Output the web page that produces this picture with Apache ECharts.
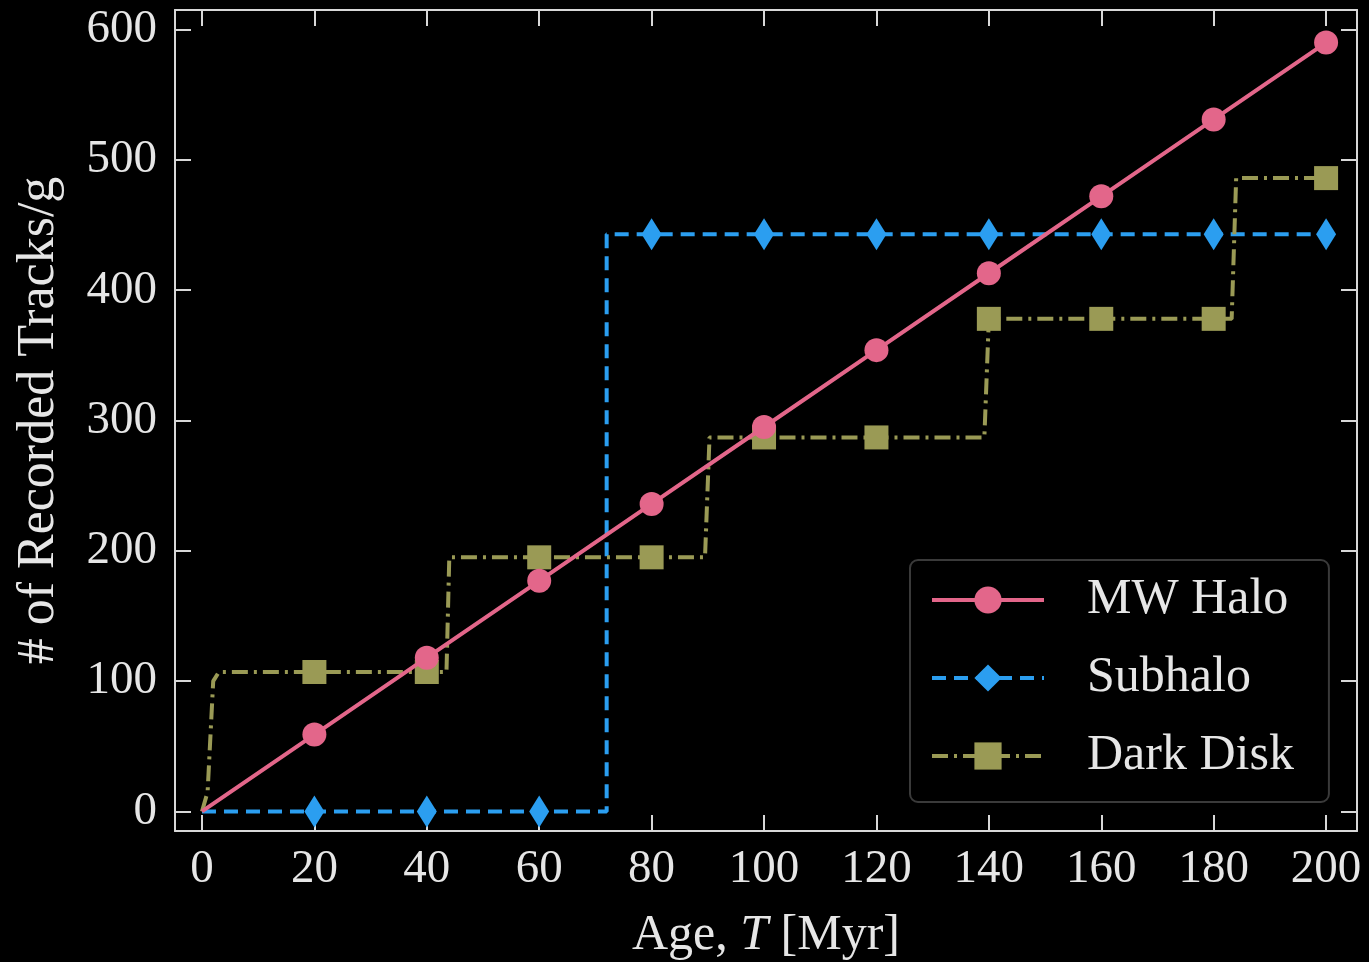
<!DOCTYPE html>
<html>
<head>
<meta charset="utf-8">
<script src="https://cdn.jsdelivr.net/npm/echarts@6/dist/echarts.min.js"></script>
<style>
  html, body { margin: 0; padding: 0; background: #000; }
  #chart { width: 1369px; height: 962px; }
</style>
</head>
<body>
<div id="chart"></div>
<script>
// Marker ages (Myr) and track counts per series
const ages = [20, 40, 60, 80, 100, 120, 140, 160, 180, 200];
const mwHalo = [59, 118, 177, 236, 295, 354, 413, 472, 531, 590];
const subhalo = [0, 0, 0, 443, 443, 443, 443, 443, 443, 443];
const darkDisk = [107, 107, 195, 195, 287, 287, 378, 378, 378, 486];

// Line vertices between markers (step shapes)
const mwHaloPath = [[0, 0]];
const subhaloPath = [[0, 0], [72, 0], [72, 443], [200, 443]];
const darkDiskPath = [[0, 0], [1, 15], [2, 100], [3, 107], [43.5, 107], [44, 195],
  [89.5, 195], [90.3, 287], [139.2, 287], [140, 378], [183.2, 378], [184, 486], [200, 486]];

// Axis ticks
const xTicks = [0, 20, 40, 60, 80, 100, 120, 140, 160, 180, 200];
const yTicks = [0, 100, 200, 300, 400, 500, 600];

const FONT = '"Liberation Serif", "DejaVu Serif", serif';
const FG = '#e6e6e6';
const AXIS_COLOR = '#d8d8d8';

// Merge path vertices (no symbol) with marker points (symbol), ordered by x
function buildData(path, xs, ys) {
  const out = path.map(p => ({ value: p, symbol: 'none' }));
  xs.forEach((x, i) => {
    let idx = out.length;
    for (let k = 0; k < out.length; k++) {
      if (out[k].value[0] > x) { idx = k; break; }
    }
    out.splice(idx, 0, { value: [x, ys[i]] });
  });
  return out;
}

function xAxisDef(pos, showLabels) {
  return {
    type: 'value', position: pos, min: -4.8, max: 205.5,
    axisLine: { show: true, onZero: false, lineStyle: { color: AXIS_COLOR, width: 2 } },
    axisTick: { show: true, inside: true, length: 16, customValues: xTicks,
      lineStyle: { color: AXIS_COLOR, width: 2 } },
    axisLabel: { show: showLabels, customValues: xTicks, color: FG, fontFamily: FONT,
      fontSize: 47, margin: 15 },
    splitLine: { show: false },
    name: showLabels ? '{n|Age, }{i|T}{n| [Myr]}' : '',
    nameLocation: 'middle', nameGap: 80,
    nameTextStyle: { rich: {
      n: { fontFamily: FONT, fontSize: 50, color: FG },
      i: { fontFamily: FONT, fontSize: 50, color: FG, fontStyle: 'italic' }
    } }
  };
}

function yAxisDef(pos, showLabels) {
  return {
    type: 'value', position: pos, min: -15, max: 615,
    axisLine: { show: true, onZero: false, lineStyle: { color: AXIS_COLOR, width: 2 } },
    axisTick: { show: true, inside: true, length: 16, customValues: yTicks,
      lineStyle: { color: AXIS_COLOR, width: 2 } },
    axisLabel: { show: showLabels, customValues: yTicks, color: FG, fontFamily: FONT,
      fontSize: 47, margin: 18 },
    splitLine: { show: false },
    name: showLabels ? '# of Recorded Tracks/g' : '',
    nameLocation: 'middle', nameGap: 110,
    nameTextStyle: { fontFamily: FONT, fontSize: 52, color: FG }
  };
}

const chart = echarts.init(document.getElementById('chart'), null, { renderer: 'canvas' });
chart.setOption({
  backgroundColor: '#000',
  animation: false,
  grid: { left: 175, right: 12, top: 10, bottom: 131, outerBoundsMode: 'none', containLabel: false },
  xAxis: [xAxisDef('bottom', true), xAxisDef('top', false)],
  yAxis: [yAxisDef('left', true), yAxisDef('right', false)],
  legend: {
    orient: 'vertical', left: 910, top: 560,
    padding: [14, 35, 20, 20], itemGap: 26,
    itemWidth: 112, itemHeight: 34,
    backgroundColor: '#000', borderColor: '#3a3a3a', borderWidth: 2, borderRadius: 8,
    lineStyle: { width: 4 },
    textStyle: { color: FG, fontFamily: FONT, fontSize: 50, lineHeight: 52, padding: [0, 0, 0, 38] },
    data: ['MW Halo', 'Subhalo', 'Dark Disk']
  },
  series: [
    {
      name: 'MW Halo', type: 'line', xAxisIndex: 0, yAxisIndex: 0,
      data: buildData(mwHaloPath, ages, mwHalo),
      symbol: 'circle', symbolSize: 24, showAllSymbol: true,
      lineStyle: { color: '#e3668a', width: 4 },
      itemStyle: { color: '#e3668a' }, z: 3
    },
    {
      name: 'Subhalo', type: 'line', xAxisIndex: 0, yAxisIndex: 0,
      data: buildData(subhaloPath, ages, subhalo),
      symbol: 'diamond', symbolSize: [20, 32], showAllSymbol: true,
      lineStyle: { color: '#2b9ef0', width: 4, type: [14, 8] },
      itemStyle: { color: '#2b9ef0' }, z: 2
    },
    {
      name: 'Dark Disk', type: 'line', xAxisIndex: 0, yAxisIndex: 0,
      data: buildData(darkDiskPath, ages, darkDisk),
      symbol: 'rect', symbolSize: 24, showAllSymbol: true,
      lineStyle: { color: '#9a9a55', width: 4, type: [16, 6, 3, 6] },
      itemStyle: { color: '#9a9a55' }, z: 2
    }
  ]
});
</script>
</body>
</html>
